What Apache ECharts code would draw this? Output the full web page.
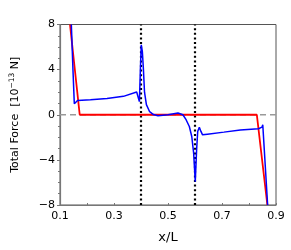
<!DOCTYPE html>
<html><head><meta charset="utf-8">
<script src="https://cdn.jsdelivr.net/npm/echarts@6/dist/echarts.min.js"></script>
<style>html,body{margin:0;padding:0;background:#fff}#c{width:291px;height:250px}</style>
</head><body><div id="c"></div>
<script>
var blueX = [0.142,0.148,0.153,0.165,0.213,0.274,0.335,0.384,0.394,0.398,0.401,0.405,0.409,0.413,0.42,0.432,0.446,0.463,0.5,0.537,0.555,0.567,0.579,0.588,0.595,0.601,0.606,0.61,0.616,0.622,0.628,0.646,0.707,0.768,0.835,0.848,0.851,0.869];
var blueY = [8,4,0.98,1.27,1.33,1.45,1.63,2.02,1.16,4.2,6.2,5.6,4.0,2.0,0.9,0.27,0.02,-0.09,0.0,0.15,0.0,-0.44,-1.04,-1.93,-3.4,-5.93,-3.1,-1.48,-1.1,-1.48,-1.78,-1.72,-1.54,-1.35,-1.24,-1.1,-0.89,-8];
var redX = [0.137,0.173,0.829,0.868];
var redY = [8,0,0,-8];
var vLines = [0.4,0.6];
var xMin = 0.1, xMax = 0.9, yMin = -8, yMax = 8;
var xTickStep = 0.1, yTickStep = 4;

function pairs(xs, ys){ return xs.map(function(x,i){return [x, ys[i]];}); }

var chart = echarts.init(document.getElementById('c'), null, {renderer:'canvas'});
var font = 'DejaVu Sans';
var series = [
  {type:'line', data:[[xMin,0],[xMax,0]], symbol:'none', silent:true, z:1,
   lineStyle:{color:'#999', width:1.5, type:[6,4]}},
];
vLines.forEach(function(v){
  series.push({type:'line', data:[[v,yMin],[v,yMax]], symbol:'none', silent:true, z:2,
    lineStyle:{color:'#000', width:2.2, type:[2,2.6], cap:'butt'}});
});
series.push({type:'line', data:pairs(redX, redY), symbol:'none', z:3,
  lineStyle:{color:'#ff0000', width:1.8}});
series.push({type:'line', data:pairs(blueX, blueY), symbol:'none', z:4,
  lineStyle:{color:'#0000ff', width:1.5}});

chart.setOption({
  animation:false,
  grid:{left:57, right:15, top:24.5, bottom:45, show:true, borderColor:'#555', borderWidth:1},
  xAxis:{type:'value', min:xMin, max:xMax, interval:xTickStep,
    name:'x/L', nameLocation:'middle', nameGap:26,
    nameTextStyle:{fontFamily:font, fontSize:13, color:'#000'},
    axisLine:{show:true, onZero:false, lineStyle:{color:'#777', width:1.2}},
    axisTick:{show:true, inside:true, length:2, lineStyle:{color:'#777'}},
    splitLine:{show:false},
    axisLabel:{fontFamily:font, fontSize:11, color:'#000', margin:6,
      formatter:function(v){ var k=Math.round(v*10); return (k%2===1)? (k/10).toFixed(1) : ''; }}
  },
  yAxis:{type:'value', min:yMin, max:yMax, interval:yTickStep,
    name:'Total Force  [10{sup|\u221213} N]', nameLocation:'middle', nameGap:38,
    nameTextStyle:{fontFamily:font, fontSize:11, color:'#000',
      rich:{sup:{fontFamily:font, fontSize:7.5, verticalAlign:'bottom', padding:[0,0,6,0], color:'#000'}}},
    axisLine:{show:true, onZero:false, lineStyle:{color:'#777', width:1.2}},
    axisTick:{show:true, length:3, lineStyle:{color:'#777'}},
    minorTick:{show:true, splitNumber:4, length:2, lineStyle:{color:'#777'}},
    splitLine:{show:false},
    axisLabel:{fontFamily:font, fontSize:11, color:'#000', margin:5,
      formatter:function(v){ return v<0 ? '\u2212'+(-v) : ''+v; }}
  },
  series:series
});
</script></body></html>
